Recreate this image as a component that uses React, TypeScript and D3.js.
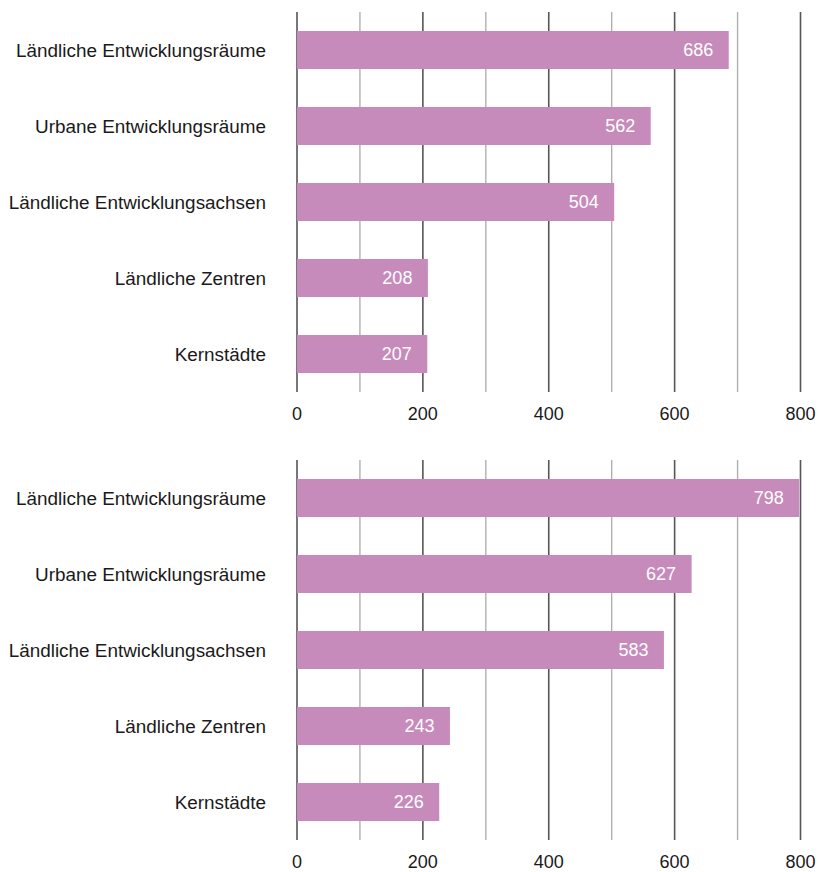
import React from "react";
import * as d3 from "d3";

const categories = [
  "Ländliche Entwicklungsräume",
  "Urbane Entwicklungsräume",
  "Ländliche Entwicklungsachsen",
  "Ländliche Zentren",
  "Kernstädte",
];
const valuesTop = [686, 562, 504, 208, 207];
const valuesBottom = [798, 627, 583, 243, 226];
const tickValues = [0, 200, 400, 600, 800];
const gridValues = [0, 100, 200, 300, 400, 500, 600, 700, 800];

const W = 821;
const H = 872;
const BAR = "#c68bbb";
const FONT = "'Liberation Sans', Arial, sans-serif";

function Panel({ values, offset }: { values: number[]; offset: number }) {
  const x = d3.scaleLinear().domain([0, 800]).range([297, 800.5]);
  const y = d3
    .scaleBand<string>()
    .domain(categories)
    .range([12 + offset, 392 + offset])
    .paddingInner(0.5)
    .paddingOuter(0.25);
  const [y0, y1] = y.range();
  return (
    <g>
      {gridValues.map((g) => (
        <line
          key={g}
          x1={x(g)}
          x2={x(g)}
          y1={y0}
          y2={y1}
          stroke={g % 200 === 0 ? "#555" : "#b0b0b0"}
          strokeWidth={g % 200 === 0 ? 1.6 : 1.4}
        />
      ))}
      {categories.map((c, i) => (
        <g key={c}>
          <rect
            x={x(0)}
            y={y(c)!}
            width={x(values[i]) - x(0)}
            height={y.bandwidth()}
            fill={BAR}
          />
          <text
            x={x(values[i]) - 15.5}
            y={y(c)! + y.bandwidth() / 2}
            dy="0.36em"
            textAnchor="end"
            fill="#fff"
            fontSize={18}
            fontFamily={FONT}
          >
            {values[i]}
          </text>
          <text
            x={266}
            y={y(c)! + y.bandwidth() / 2}
            dy="0.36em"
            textAnchor="end"
            fill="#1a1a1a"
            fontSize={18.9}
            fontFamily={FONT}
          >
            {c}
          </text>
        </g>
      ))}
      {tickValues.map((t) => (
        <text
          key={t}
          x={x(t)}
          y={y1 + 22}
          dy="0.36em"
          textAnchor="middle"
          fill="#1a1a1a"
          fontSize={18}
          fontFamily={FONT}
        >
          {t}
        </text>
      ))}
    </g>
  );
}

export default function App() {
  return (
    <svg
      width={W}
      height={H}
      style={{ position: "absolute", left: 0, top: 0, background: "#fff" }}
    >
      <Panel values={valuesTop} offset={0} />
      <Panel values={valuesBottom} offset={448} />
    </svg>
  );
}
